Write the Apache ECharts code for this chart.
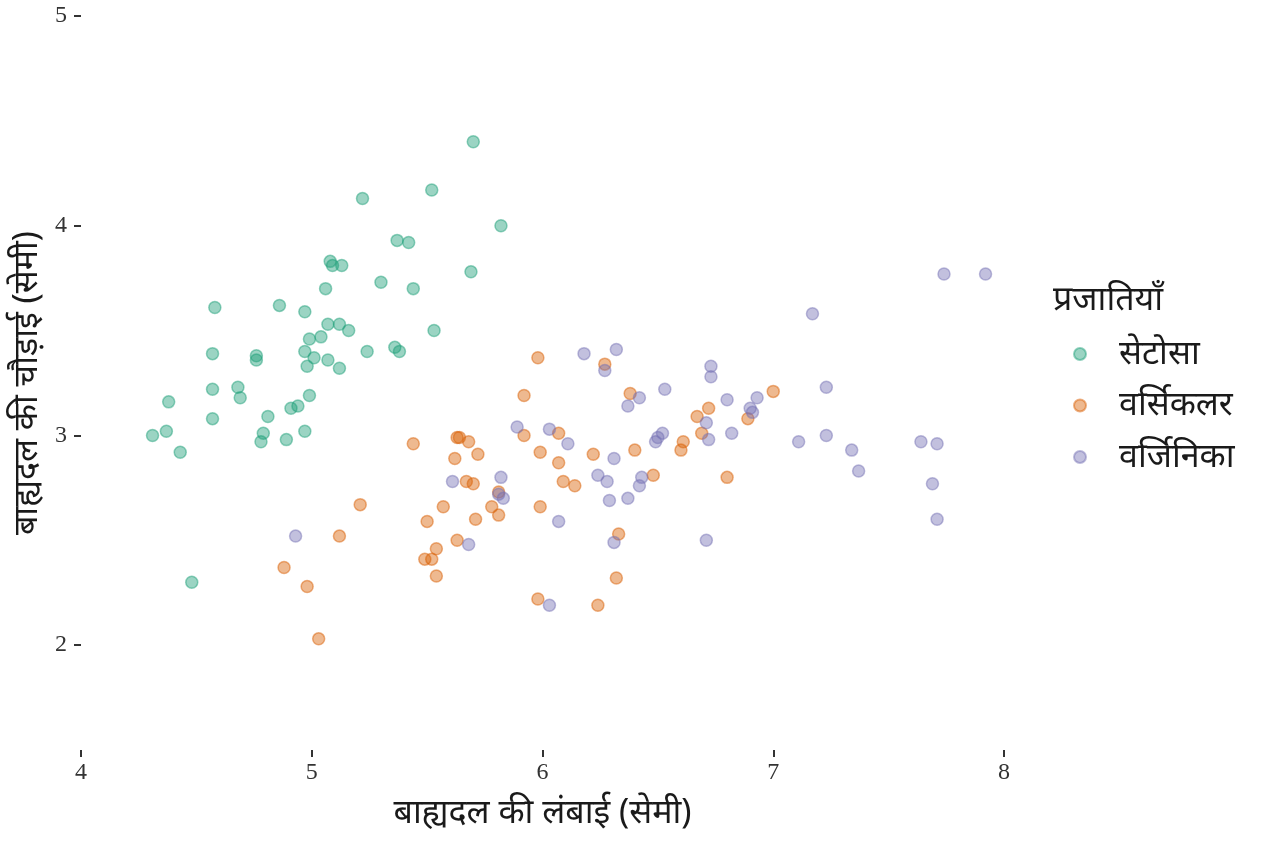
<!DOCTYPE html>
<html>
<head>
<meta charset="utf-8">
<script src="https://cdn.jsdelivr.net/npm/echarts@6/dist/echarts.min.js"></script>
<style>
  html, body { margin: 0; padding: 0; background: #fff; }
  #chart { width: 1264px; height: 843px; }
</style>
</head>
<body>
<div id="chart"></div>
<script>
// sepal length / width (cm)
var setosa = [
  [5.70, 4.40], [5.52, 4.17], [5.22, 4.13], [5.82, 4.00], [5.37, 3.93],
  [5.42, 3.92], [5.08, 3.83], [5.09, 3.81], [5.13, 3.81], [5.69, 3.78],
  [5.30, 3.73], [5.06, 3.70], [5.44, 3.70], [4.58, 3.61], [4.86, 3.62],
  [4.97, 3.59], [5.07, 3.53], [5.12, 3.53], [5.16, 3.50], [5.53, 3.50],
  [4.99, 3.46], [5.04, 3.47], [4.57, 3.39], [4.76, 3.38], [4.76, 3.36],
  [4.97, 3.40], [5.01, 3.37], [5.07, 3.36], [5.24, 3.40], [5.36, 3.42],
  [5.38, 3.40], [4.98, 3.33], [5.12, 3.32], [4.57, 3.22], [4.68, 3.23],
  [4.69, 3.18], [4.99, 3.19], [4.38, 3.16], [4.81, 3.09], [4.91, 3.13],
  [4.94, 3.14], [4.57, 3.08], [4.37, 3.02], [4.31, 3.00], [4.79, 3.01],
  [4.78, 2.97], [4.89, 2.98], [4.97, 3.02], [4.43, 2.92], [4.48, 2.30]
];

var versicolor = [
  [5.98, 3.37], [6.27, 3.34], [5.92, 3.19], [6.38, 3.20], [5.44, 2.96],
  [5.63, 2.99], [5.64, 2.99], [5.68, 2.97], [5.62, 2.89], [5.72, 2.91],
  [5.92, 3.00], [6.07, 3.01], [5.99, 2.92], [6.07, 2.87], [6.22, 2.91],
  [6.40, 2.93], [6.48, 2.81], [6.09, 2.78], [6.14, 2.76], [5.67, 2.78],
  [5.70, 2.77], [5.81, 2.73], [5.78, 2.66], [5.81, 2.62], [5.57, 2.66],
  [5.50, 2.59], [5.71, 2.60], [5.99, 2.66], [5.21, 2.67], [5.12, 2.52],
  [5.63, 2.50], [5.54, 2.46], [5.49, 2.41], [5.52, 2.41], [5.54, 2.33],
  [4.88, 2.37], [4.98, 2.28], [5.03, 2.03], [6.33, 2.53], [6.32, 2.32],
  [5.98, 2.22], [6.24, 2.19], [7.00, 3.21], [6.72, 3.13], [6.67, 3.09],
  [6.89, 3.08], [6.69, 3.01], [6.61, 2.97], [6.60, 2.93], [6.80, 2.80]
];

var virginica = [
  [6.18, 3.39], [6.32, 3.41], [6.27, 3.31], [6.53, 3.22], [6.42, 3.18],
  [6.37, 3.14], [5.89, 3.04], [6.03, 3.03], [6.11, 2.96], [6.31, 2.89],
  [6.24, 2.81], [6.28, 2.78], [6.43, 2.80], [6.42, 2.76], [6.29, 2.69],
  [6.37, 2.70], [5.82, 2.80], [5.61, 2.78], [5.81, 2.72], [5.83, 2.70],
  [6.07, 2.59], [5.68, 2.48], [6.31, 2.49], [6.03, 2.19], [4.93, 2.52],
  [6.73, 3.33], [6.73, 3.28], [6.80, 3.17], [6.93, 3.18], [6.90, 3.13],
  [6.91, 3.11], [6.71, 3.06], [6.72, 2.98], [6.82, 3.01], [6.52, 3.01],
  [6.50, 2.99], [6.49, 2.97], [7.11, 2.97], [6.71, 2.50], [7.74, 3.77],
  [7.92, 3.77], [7.17, 3.58], [7.23, 3.23], [7.23, 3.00], [7.34, 2.93],
  [7.37, 2.83], [7.64, 2.97], [7.71, 2.96], [7.69, 2.77], [7.71, 2.60]
];

var speciesNames = ['सेटोसा', 'वर्सिकलर', 'वर्जिनिका'];
var xTicks = [4, 5, 6, 7, 8];
var yTicks = [2, 3, 4, 5];

var palette = ['#1B9E77', '#D95F02', '#7570B3'];
var deva = "'Noto Sans', 'Noto Sans Devanagari', sans-serif";
var serif = "'Liberation Serif', 'DejaVu Serif', serif";

function alpha(hex, a) {
  var n = parseInt(hex.slice(1), 16);
  return 'rgba(' + (n >> 16) + ',' + ((n >> 8) & 255) + ',' + (n & 255) + ',' + a + ')';
}

function pointSeries(name, data, i) {
  return {
    name: name,
    type: 'scatter',
    data: data,
    symbol: 'circle',
    symbolSize: 12,
    itemStyle: {
      color: alpha(palette[i], 0.55),
      borderColor: alpha(palette[i], 0.6),
      borderWidth: 1.5
    },
    emphasis: { disabled: true }
  };
}

var chart = echarts.init(document.getElementById('chart'));

var option = {
  backgroundColor: '#fff',
  animation: false,
  title: {
    text: 'प्रजातियाँ',
    left: 1053,
    top: 283,
    padding: 0,
    textStyle: { fontFamily: deva, fontSize: 34, fontWeight: 'normal', color: '#1a1a1a' }
  },
  legend: {
    orient: 'vertical',
    left: 1073,
    top: 334,
    padding: 0,
    itemWidth: 12,
    itemHeight: 12,
    itemGap: 11.5,
    icon: 'circle',
    data: speciesNames,
    textStyle: {
      fontFamily: deva, fontSize: 34, color: '#1a1a1a',
      lineHeight: 40, padding: [0, 0, 0, 28]
    }
  },
  grid: { left: 81, right: 260, top: 16, bottom: 93, containLabel: false },
  xAxis: {
    type: 'value',
    min: 4,
    max: 8,
    name: 'बाह्यदल की लंबाई (सेमी)',
    nameLocation: 'middle',
    nameGap: 46,
    nameTextStyle: { fontFamily: deva, fontSize: 34, color: '#1a1a1a' },
    axisLine: { show: false },
    axisTick: {
      show: true, length: 7, customValues: xTicks,
      lineStyle: { color: '#333', width: 2 }
    },
    axisLabel: {
      customValues: xTicks, margin: 11,
      fontFamily: serif, fontSize: 24, color: '#333'
    },
    splitLine: { show: false }
  },
  yAxis: {
    type: 'value',
    min: 1.5,
    max: 5,
    name: 'बाह्यदल की चौड़ाई (सेमी)',
    nameLocation: 'middle',
    nameGap: 27,
    nameTextStyle: { fontFamily: deva, fontSize: 34, color: '#1a1a1a' },
    axisLine: { show: false },
    axisTick: {
      show: true, length: 7, customValues: yTicks,
      lineStyle: { color: '#333', width: 2 }
    },
    axisLabel: {
      customValues: yTicks, margin: 14,
      fontFamily: serif, fontSize: 24, color: '#333'
    },
    splitLine: { show: false }
  },
  series: [
    pointSeries(speciesNames[0], setosa, 0),
    pointSeries(speciesNames[1], versicolor, 1),
    pointSeries(speciesNames[2], virginica, 2)
  ]
};

chart.setOption(option);
</script>
</body>
</html>
